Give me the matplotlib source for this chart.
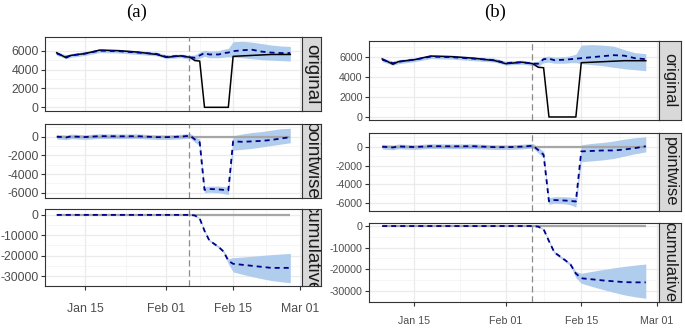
import matplotlib
matplotlib.use("Agg")
import matplotlib.pyplot as plt
from matplotlib import font_manager
import pandas as pd

plt.rcParams['axes.unicode_minus'] = False

# ---- data ----
dates = pd.to_datetime([
    "2019-01-09", "2019-01-11", "2019-01-12", "2019-01-15", "2019-01-18", "2019-01-22",
    "2019-01-26", "2019-01-30", "2019-02-01", "2019-02-02", "2019-02-04", "2019-02-06",
    "2019-02-07", "2019-02-08", "2019-02-09", "2019-02-10", "2019-02-12", "2019-02-13",
    "2019-02-14", "2019-02-15", "2019-02-17", "2019-02-19", "2019-02-21", "2019-02-23",
    "2019-02-25", "2019-02-27"])
intervention = pd.Timestamp("2019-02-05 19:00")

actual = [5780, 5250, 5500, 5700, 6060, 6000, 5850, 5600, 5300, 5350, 5450, 5300,
          4950, 4900, 0, 0, 0, 0, 0, 5400, 5450, 5500, 5550, 5600, 5600, 5600]

# panel (a)
pred_a = [5700, 5350, 5500, 5700, 6000, 5950, 5800, 5650, 5350, 5400, 5450, 5300,
          5250, 5500, 5750, 5600, 5600, 5750, 5800, 5950, 6050, 6100, 5900, 5800, 5750, 5750]
pred_hi_a = [5900, 5550, 5700, 5900, 6200, 6150, 6000, 5850, 5550, 5600, 5650, 5500,
             5550, 5850, 6050, 5950, 6000, 6150, 6250, 6950, 7000, 6900, 6750, 6600, 6500, 6450]
pred_lo_a = [5500, 5150, 5300, 5500, 5800, 5750, 5600, 5450, 5150, 5200, 5250, 5100,
             4950, 5200, 5400, 5250, 5250, 5300, 5350, 5300, 5250, 5150, 5050, 5000, 4950, 4900]
pw_a = [0, -80, 30, -40, 60, 40, 50, -50, -50, -40, 10, 100,
        -300, -600, -5700, -5600, -5650, -5700, -5750, -500, -550, -500, -450, -350, -200, -50]
pw_hi_a = [250, 170, 280, 210, 310, 290, 300, 200, 200, 210, 260, 350,
           0, -250, -5350, -5300, -5300, -5350, -5400, 100, 300, 450, 550, 700, 850, 900]
pw_lo_a = [-250, -330, -220, -290, -190, -210, -200, -300, -300, -290, -240, -150,
           -600, -950, -6000, -5950, -6000, -6100, -6200, -1450, -1350, -1250, -1100, -950, -800, -650]
cum_a = [0] * 12 + [-300, -1800, -7800, -12500, -15800, -18000, -22500,
                    -24000, -24500, -25000, -25500, -26000, -26000, -26000]
cum_hi_a = [0] * 12 + [-100, -1400, -7300, -12000, -15200, -17400, -21500,
                       -21000, -20700, -20300, -19900, -19500, -19200, -18900]
cum_lo_a = [0] * 12 + [-500, -2200, -8300, -13000, -16400, -18600, -24000,
                       -28000, -29200, -30300, -31300, -32200, -32800, -33300]

# panel (b)
pred_b = [5700, 5350, 5500, 5700, 6000, 5950, 5800, 5650, 5350, 5400, 5450, 5300,
          5300, 5750, 5800, 5650, 5700, 5750, 5800, 5850, 5950, 6050, 6150, 6100, 5850, 5750]
pred_hi_b = [5900, 5550, 5700, 5900, 6200, 6150, 6000, 5850, 5550, 5600, 5650, 5500,
             5550, 6000, 6050, 5950, 6000, 6100, 6250, 7150, 7200, 7150, 7050, 6700, 6400, 6300]
pred_lo_b = [5500, 5150, 5300, 5500, 5800, 5750, 5600, 5450, 5150, 5200, 5250, 5100,
             5050, 5400, 5450, 5350, 5350, 5400, 5400, 5300, 5200, 5100, 4950, 4800, 4700, 4600]
pw_b = [0, -80, 30, -40, 60, 40, 50, -50, -50, -40, 10, 100,
        -350, -850, -5800, -5650, -5700, -5750, -5800, -500, -450, -400, -400, -300, -150, 50]
pw_hi_b = [250, 170, 280, 210, 310, 290, 300, 200, 200, 210, 260, 350,
           -50, -500, -5400, -5300, -5300, -5350, -5400, 200, 350, 450, 600, 800, 950, 1050]
pw_lo_b = [-250, -330, -220, -290, -190, -210, -200, -300, -300, -290, -240, -150,
           -650, -1200, -6100, -6000, -6050, -6150, -6400, -1600, -1500, -1400, -1250, -1000, -750, -550]
cum_b = [0] * 12 + [-300, -1500, -7000, -12200, -15800, -17800, -22000,
                    -24200, -24700, -25200, -25600, -26000, -26100, -26100]
cum_hi_b = [0] * 12 + [-100, -1100, -6500, -11700, -15300, -17200, -21000,
                       -21900, -21000, -20200, -19400, -18700, -18100, -17600]
cum_lo_b = [0] * 12 + [-500, -1900, -7500, -12800, -16500, -18500, -24000,
                       -26500, -28000, -29400, -30700, -31900, -32800, -33500]

facet_names = ["original", "pointwise", "cumulative"]
x_ticks = pd.to_datetime(["2019-01-15", "2019-02-01", "2019-02-15", "2019-03-01"])
x_labels = ["Jan 15", "Feb 01", "Feb 15", "Mar 01"]
x_minor = pd.to_datetime(["2019-01-23 12:00", "2019-02-08 00:00", "2019-02-22 00:00"])
y_ticks = [[0, 2000, 4000, 6000], [-6000, -4000, -2000, 0], [-30000, -20000, -10000, 0]]
y_minor = [[1000, 3000, 5000, 7000], [-5000, -3000, -1000, 1000], [-25000, -15000, -5000]]

W, H = 685, 333
fig = plt.figure(figsize=(W / 100, H / 100), dpi=100)

# narrow face for tick labels if one is installed, else a smaller regular face
installed = {f.name for f in font_manager.fontManager.ttflist}
if 'Liberation Sans Narrow' in installed:
    NARROW, tick_scale = ['Liberation Sans Narrow', 'DejaVu Sans'], 1.0
else:
    NARROW, tick_scale = ['Liberation Sans', 'DejaVu Sans'], 0.8
SANS = ['Liberation Sans', 'DejaVu Sans']
RIBBON = '#B1CDEE'
BORDER = '#333333'


def draw_panel(x0, x1, strip_w, rows, ylims, fs, strip_fs, xpad, title, title_xy, series):
    fs = fs * tick_scale
    span = dates[-1] - dates[0]
    xlim = (dates[0] - span * 0.05, dates[-1] + span * 0.05)
    for i, (yt, yb) in enumerate(rows):
        ax = fig.add_axes([x0 / W, 1 - yb / H, (x1 - x0) / W, (yb - yt) / H])
        mid, lo, hi = series[i]
        ax.fill_between(dates, lo, hi, color=RIBBON, lw=0, zorder=2)
        if i > 0:
            ax.hlines(0, dates[0], dates[-1], color='#A6A6A6', lw=1.6, zorder=3)
        if i == 0:
            ax.plot(dates, actual, color='black', lw=1.1, zorder=4)
        ax.plot(dates, mid, color='#00008B', lw=1.3, dashes=(2.8, 2.2), zorder=5)
        ax.axvline(intervention, color='#8C8C8C', lw=0.9, dashes=(5, 3), zorder=3)
        ax.set_xlim(xlim)
        ax.set_ylim(ylims[i])
        ax.set_yticks(y_ticks[i])
        ax.set_yticklabels([str(v) for v in y_ticks[i]], family=NARROW, fontsize=fs, color='#4D4D4D')
        ax.set_yticks(y_minor[i], minor=True)
        ax.set_xticks(x_ticks)
        ax.set_xticks(x_minor, minor=True)
        if i == 2:
            ax.set_xticklabels(x_labels, family=NARROW, fontsize=fs, color='#4D4D4D')
            ax.tick_params(axis='x', which='major', length=3, width=0.8, color=BORDER, pad=xpad)
        else:
            ax.tick_params(axis='x', which='major', length=0, labelbottom=False)
        ax.tick_params(axis='y', which='major', length=3, width=0.8, color=BORDER, pad=1.5)
        ax.tick_params(which='minor', length=0)
        ax.grid(which='major', color='#EBEBEB', lw=0.9)
        ax.grid(which='minor', color='#F2F2F2', lw=0.5)
        ax.set_axisbelow(True)
        for sp in ax.spines.values():
            sp.set_color(BORDER)
            sp.set_linewidth(0.8)

        sax = fig.add_axes([x1 / W, 1 - yb / H, strip_w / W, (yb - yt) / H])
        sax.set_facecolor('#D9D9D9')
        sax.set_xticks([])
        sax.set_yticks([])
        for sp in sax.spines.values():
            sp.set_color(BORDER)
            sp.set_linewidth(0.8)
        sax.text(0.5, 0.5, facet_names[i], rotation=270, ha='center', va='center',
                 family=SANS, fontsize=strip_fs, color='#1A1A1A', clip_on=True,
                 transform=sax.transAxes)

    fig.text(title_xy[0] / W, 1 - title_xy[1] / H, title, ha='center', va='center',
             family=['Liberation Serif', 'DejaVu Serif'], fontsize=13.5)


draw_panel(45, 302, 19, [(37, 111), (124, 198), (209, 286)],
           [(-390, 7450), (-6570, 1360), (-34900, 2900)], 11, 13.5, 9, "(a)", (137, 12),
           [(pred_a, pred_lo_a, pred_hi_a), (pw_a, pw_lo_a, pw_hi_a), (cum_a, cum_lo_a, cum_hi_a)])

draw_panel(369, 659, 22, [(41, 120), (133, 211), (223, 302)],
           [(-300, 7560), (-6810, 1450), (-35200, 1400)], 9.6, 12, 7, "(b)", (495, 12),
           [(pred_b, pred_lo_b, pred_hi_b), (pw_b, pw_lo_b, pw_hi_b), (cum_b, cum_lo_b, cum_hi_b)])

fig.savefig("out.png", dpi=100)
